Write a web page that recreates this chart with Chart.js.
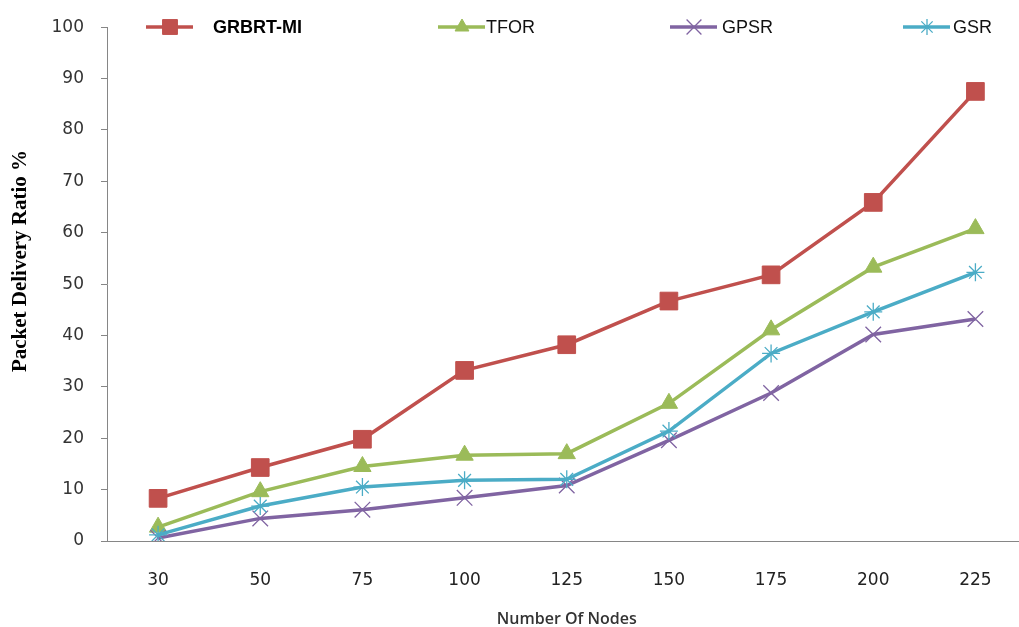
<!DOCTYPE html>
<html>
<head>
<meta charset="utf-8">
<title>Packet Delivery Ratio</title>
<script src="https://cdn.jsdelivr.net/npm/chart.js@4/dist/chart.umd.min.js"></script>
<style>
  html, body { margin: 0; padding: 0; background: #fff; overflow: hidden; }
  #wrap { width: 1040px; height: 627px; }
</style>
</head>
<body>
<div id="wrap"><canvas id="pdr" width="1040" height="627"></canvas></div>
<script>
var nodes = ["30", "50", "75", "100", "125", "150", "175", "200", "225"];
var grbrtMi = [8.3, 14.3, 19.8, 33.2, 38.2, 46.7, 51.8, 65.9, 87.5];
var tfor = [2.7, 9.6, 14.5, 16.7, 17.0, 26.8, 41.1, 53.3, 60.8];
var gpsr = [0.6, 4.4, 6.1, 8.4, 10.8, 19.6, 28.8, 40.2, 43.2];
var gsr = [1.2, 6.8, 10.5, 11.8, 12.0, 21.4, 36.5, 44.6, 52.3];
var seriesNames = ["GRBRT-MI", "TFOR", "GPSR", "GSR"];
var xTitle = "Number Of Nodes";
var yTitle = "Packet Delivery Ratio %";

(function () {
  // legend sample: left edge of line, text start
  var legendLine = [146, 438, 670, 903];
  var legendText = [213, 486, 722, 953];
  // legend markers are drawn a bit smaller than the plot markers
  var legendRadius = [10.5, 8, 10.5, 8];

  function series(name, data, color, style, radius, pbw, order) {
    return {
      label: name,
      data: data,
      borderColor: color,
      backgroundColor: color,
      pointBackgroundColor: color,
      pointBorderColor: color,
      pointStyle: style,
      pointRadius: radius,
      pointHoverRadius: radius,
      pointBorderWidth: pbw,
      borderWidth: 3.5,
      tension: 0,
      fill: false,
      order: order,
    };
  }

  var deco = {
    id: "deco",
    afterDraw: function (chart) {
      var ctx = chart.ctx;
      ctx.save();
      ctx.translate(21, 261);
      ctx.rotate(-Math.PI / 2);
      ctx.font = "bold 21px 'Liberation Serif'";
      ctx.fillStyle = "#000";
      ctx.textAlign = "center";
      ctx.textBaseline = "middle";
      ctx.fillText(yTitle, 0, 0);
      ctx.restore();

      var y = 27;
      chart.data.datasets.forEach(function (ds, i) {
        var x0 = legendLine[i];
        ctx.save();
        ctx.strokeStyle = ds.borderColor;
        ctx.fillStyle = ds.borderColor;
        ctx.lineWidth = 3.5;
        ctx.beginPath();
        ctx.moveTo(x0, y);
        ctx.lineTo(x0 + 47, y);
        ctx.stroke();
        ctx.lineWidth = ds.pointBorderWidth;
        Chart.helpers.drawPoint(ctx, {
          pointStyle: ds.pointStyle,
          radius: legendRadius[i],
          borderWidth: ds.pointBorderWidth,
          rotation: 0,
        }, x0 + 24, y);
        ctx.fillStyle = "#000";
        ctx.textAlign = "left";
        ctx.textBaseline = "middle";
        if (i === 0) {
          ctx.font = "bold 18px 'Liberation Sans'";
        } else {
          ctx.fillStyle = "#111";
          ctx.font = "18px 'Liberation Sans'";
        }
        ctx.fillText(ds.label, legendText[i], y + 1);
        ctx.restore();
      });
    },
  };

  new Chart(document.getElementById("pdr"), {
    type: "line",
    data: {
      labels: nodes,
      datasets: [
        series(seriesNames[0], grbrtMi, "#C0504D", "rect", 12.5, 1, 3),
        series(seriesNames[1], tfor, "#9BBB59", "triangle", 10, 1, 2),
        series(seriesNames[2], gpsr, "#8064A2", "crossRot", 11, 1.3, 1),
        series(seriesNames[3], gsr, "#4BACC6", "star", 9, 1.3, 0),
      ],
    },
    options: {
      responsive: false,
      animation: false,
      layout: { padding: { top: 22, right: 7, bottom: 0, left: 0 } },
      plugins: {
        legend: { display: false },
        tooltip: { enabled: false },
      },
      scales: {
        x: {
          offset: true,
          ticks: {
            padding: 29,
            color: "#222",
            maxRotation: 0,
            autoSkip: false,
            font: { family: "DejaVu Sans", size: 17 },
          },
          grid: { display: false, drawTicks: false },
          border: { display: true, color: "#868686", width: 1 },
          title: {
            display: true,
            text: xTitle,
            color: "#333",
            padding: 0,
            font: { family: "Open Sans", weight: "600", size: 16, lineHeight: 1 },
          },
          afterFit: function (s) { s.height = 86; },
        },
        y: {
          min: 0,
          max: 100,
          ticks: {
            stepSize: 10,
            padding: 17,
            color: "#333",
            font: { family: "DejaVu Sans", size: 17 },
          },
          grid: {
            display: true,
            drawOnChartArea: false,
            drawTicks: true,
            tickLength: 6,
            color: "#868686",
          },
          border: { display: true, color: "#868686", width: 1 },
          afterFit: function (s) { s.width = 107; },
        },
      },
    },
    plugins: [deco],
  });
})();
</script>
</body>
</html>
